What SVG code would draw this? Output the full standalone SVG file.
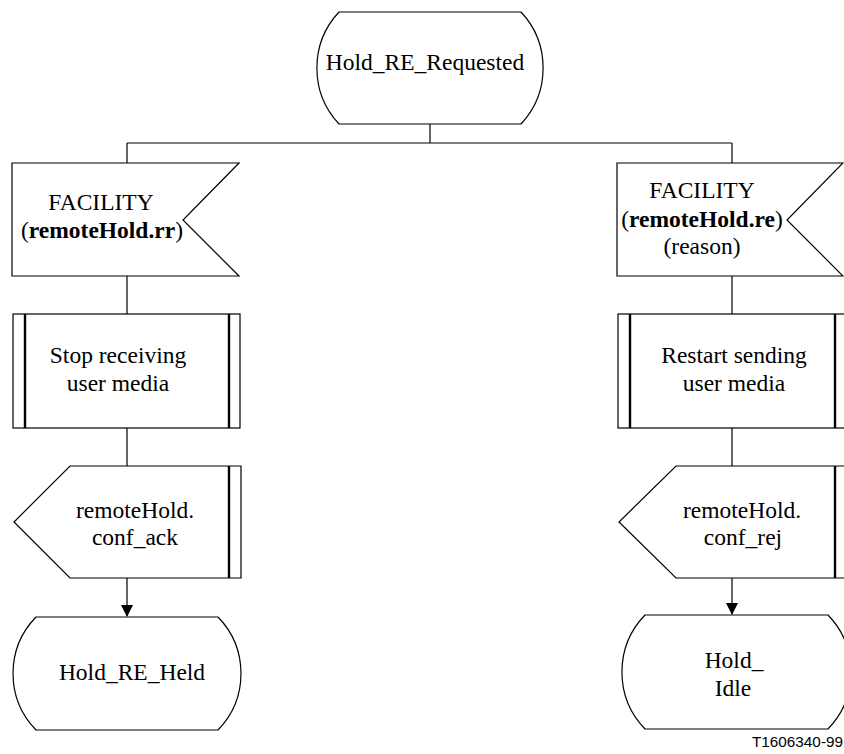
<svg xmlns="http://www.w3.org/2000/svg" width="844" height="754" viewBox="0 0 844 754">
<defs>
<marker id="arr" markerWidth="12" markerHeight="12" refX="11" refY="6" orient="auto" markerUnits="userSpaceOnUse">
<path d="M0,0 L12,6 L0,12 Z" fill="#000"/>
</marker>
</defs>
<style>
.s{fill:#fff;stroke:#000;stroke-width:1.2}
.th{stroke:#000;stroke-width:2.4;fill:none}
.c{stroke:#000;stroke-width:1.2;fill:none}
.t{font-family:'Liberation Serif',serif;font-size:23.5px;fill:#000;text-anchor:middle}
.b{font-weight:bold}
.lbl{font-family:'Liberation Sans',sans-serif;font-size:15.3px;text-anchor:end;fill:#000}
</style>
<rect width="844" height="754" fill="#fff"/>
<g id="connectors">
<path class="c" d="M430,124 V143 M127,143 H732 M127,143 V163 M732,143 V163"/>
<path class="c" d="M127,276 V314 M732,276 V314 M127,428 V466 M732,428 V466"/>
<path class="c" d="M127,578 V616" marker-end="url(#arr)"/>
<path class="c" d="M732,578 V614" marker-end="url(#arr)"/>
</g>
<g id="hold_re_requested">
<path class="s" d="M339,12 H521 A82,82 0 0 1 521,124 H339 A82,82 0 0 1 339,12 Z"/>
<text class="t" x="425" y="70">Hold_RE_Requested</text>
</g>
<g id="facility_rr">
<path class="s" d="M12,163 H239 L183,220 L239,276 H12 Z"/>
<text class="t" x="101" y="210">FACILITY</text>
<text class="t" x="102" y="238">(<tspan class="b">remoteHold.rr</tspan>)</text>
</g>
<g id="facility_re">
<path class="s" d="M617,163 H843 L787,220 L843,276 H617 Z"/>
<text class="t" x="702" y="198">FACILITY</text>
<text class="t" x="702" y="227">(<tspan class="b">remoteHold.re</tspan>)</text>
<text class="t" x="702" y="254">(reason)</text>
</g>
<g id="stop_receiving">
<rect class="s" x="13" y="314" width="227" height="114"/>
<path class="th" d="M25,314 V428 M229,314 V428"/>
<text class="t" x="118" y="363">Stop receiving</text>
<text class="t" x="118" y="391">user media</text>
</g>
<g id="restart_sending">
<rect class="s" x="618" y="314" width="232" height="114"/>
<path class="th" d="M630,314 V428 M835,314 V428"/>
<text class="t" x="734" y="363">Restart sending</text>
<text class="t" x="734" y="391">user media</text>
</g>
<g id="conf_ack">
<path class="s" d="M70,466 H241 V578 H70 L14,522 Z"/>
<path class="th" d="M229,466 V578"/>
<text class="t" x="135" y="518">remoteHold.</text>
<text class="t" x="135" y="545">conf_ack</text>
</g>
<g id="conf_rej">
<path class="s" d="M676,466 H850 V578 H676 L619,522 Z"/>
<path class="th" d="M835,466 V578"/>
<text class="t" x="742" y="518">remoteHold.</text>
<text class="t" x="743" y="545">conf_rej</text>
</g>
<g id="hold_re_held">
<path class="s" d="M36,617 H218 A81,81 0 0 1 218,730 H36 A81,81 0 0 1 36,617 Z"/>
<text class="t" x="132" y="680">Hold_RE_Held</text>
</g>
<g id="hold_idle">
<path class="s" d="M645,615 H828 A82,82 0 0 1 828,729 H645 A82,82 0 0 1 645,615 Z"/>
<text class="t" x="734" y="668">Hold_</text>
<text class="t" x="733" y="696">Idle</text>
</g>
<text class="lbl" x="843" y="747">T1606340-99</text>
</svg>
